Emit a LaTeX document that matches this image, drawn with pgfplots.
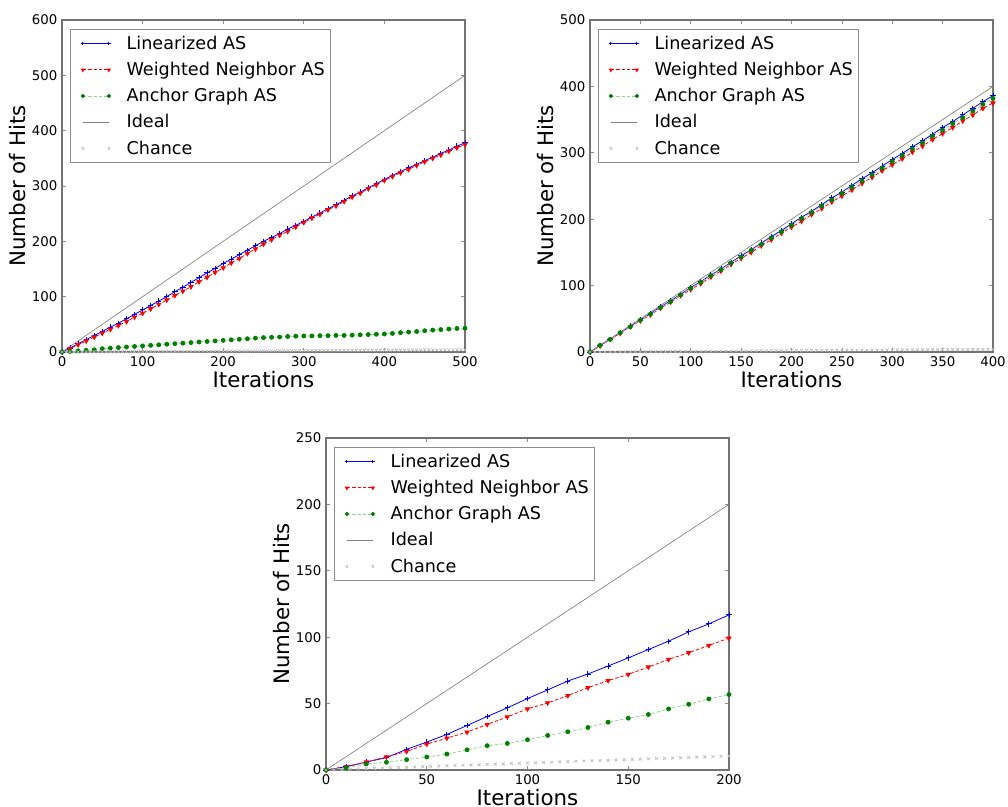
\documentclass[border=0pt]{standalone}
\usepackage{fontspec}
\setmainfont{DejaVu Sans}
\usepackage{pgfplots}
\pgfplotsset{compat=1.18}

\definecolor{mplblue}{rgb}{0,0,1}
\definecolor{mplred}{rgb}{1,0,0}
\definecolor{mplgreen}{rgb}{0,0.5,0}
\definecolor{lightgreenline}{RGB}{150,210,150}
\definecolor{idealgray}{RGB}{128,128,128}
\definecolor{chancegray}{RGB}{185,185,185}

\pgfplotsset{
  panel/.style={
    scale only axis, width=302.25pt, height=249pt,
    anchor=south west,
    axis line style={black!55, line width=0.8pt},
    tick align=inside, major tick length=3pt,
    tick style={black!45, line width=0.5pt},
    xtick pos=both, ytick pos=both,
    ticklabel style={font=\fontsize{10}{12}\selectfont},
    label style={font=\fontsize{16}{19}\selectfont},
    xlabel={Iterations}, ylabel={Number of Hits},
    xlabel style={inner ysep=1pt, yshift=0.8pt}, ylabel style={yshift=-2pt},
    scaled ticks=false,
    /pgf/number format/assume math mode=true,
    legend cell align=left,
    legend style={at={(0.02,0.973)}, anchor=north west,
      draw=black!45, line width=0.6pt,
      font=\fontsize{13.2}{15.8}\selectfont,
      row sep=4.1pt, inner xsep=4.5pt, inner ysep=3pt,
      nodes={inner xsep=0pt},
      /tikz/every odd column/.append style={column sep=12pt}},
    legend image code/.code={\path (0pt,0pt); \draw[mark size=1.3pt] plot coordinates {(4.5pt,0pt) (24pt,0pt)};},
  },
  lin/.style={color=mplblue, draw=mplblue, line width=0.6pt, mark=+, mark size=2pt,
    mark options={solid, draw=mplblue, line width=0.7pt}},
  wn/.style={color=mplred, draw=mplred, line width=0.6pt, dash pattern=on 2.5pt off 1.5pt,
    mark=triangle*, mark size=1.8pt, mark options={solid, rotate=180, draw=mplred, fill=mplred}},
  ag/.style={color=lightgreenline, draw=lightgreenline, line width=0.6pt, dash pattern=on 2.5pt off 1.5pt,
    mark=*, mark size=1.5pt, mark options={solid, draw=mplgreen, fill=mplgreen}},
  ideal/.style={color=idealgray, draw=idealgray, line width=0.5pt, no marks},
  chance/.style={color=chancegray, draw=chancegray, only marks, mark=x, mark size=1.5pt,
    mark options={draw=chancegray, line width=0.5pt}},
}

\begin{document}
\begin{tikzpicture}
\path[use as bounding box] (0,0) rectangle (756pt,605.25pt);

% ---------- top left ----------
\begin{axis}[panel, at={(46.5pt,341.25pt)},
  xmin=0, xmax=500, ymin=0, ymax=600,
  xtick={0,100,...,500}, ytick={0,100,...,600}]
\addplot[lin] coordinates {
(0,0)(10,7)(20,15)(30,22)(40,30)(50,37)(60,45)(70,52)(80,60)(90,68)(100,76)
(110,84)(120,92)(130,100)(140,109)(150,117)(160,126)(170,134)(180,143)(190,151)(200,160)
(210,168)(220,176)(230,184)(240,192)(250,200)(260,207)(270,214)(280,222)(290,229)(300,236)
(310,244)(320,251)(330,259)(340,266)(350,274)(360,282)(370,289)(380,297)(390,304)(400,312)
(410,319)(420,326)(430,333)(440,339)(450,346)(460,352)(470,359)(480,365)(490,372)(500,378)};
\addlegendentry{Linearized AS}
\addplot[wn] coordinates {
(0,0)(10,6)(20,13)(30,20)(40,27)(50,34)(60,41)(70,48)(80,55)(90,63)(100,70)
(110,78)(120,86)(130,94)(140,102)(150,110)(160,118)(170,127)(180,135)(190,144)(200,152)
(210,161)(220,169)(230,178)(240,186)(250,195)(260,203)(270,211)(280,218)(290,226)(300,234)
(310,242)(320,249)(330,257)(340,264)(350,272)(360,280)(370,287)(380,295)(390,302)(400,310)
(410,317)(420,324)(430,330)(440,337)(450,344)(460,350)(470,356)(480,363)(490,369)(500,375)};
\addlegendentry{Weighted Neighbor AS}
\addplot[ag] coordinates {
(0,0)(10,1)(20,2)(30,3)(40,4)(50,6)(60,7)(70,8)(80,9)(90,10)(100,11)
(110,12)(120,13)(130,14)(140,15)(150,16)(160,17)(170,18)(180,19)(190,20)(200,21)
(210,22)(220,23)(230,24)(240,25)(250,26)(260,26.5)(270,27)(280,28)(290,28.5)(300,29)
(310,29)(320,29.5)(330,29.5)(340,30)(350,30)(360,30.5)(370,31)(380,31.5)(390,32)(400,32.5)
(410,33.5)(420,35)(430,36)(440,37)(450,38.5)(460,39.5)(470,40.5)(480,41.5)(490,42.5)(500,43)};
\addlegendentry{Anchor Graph AS}
\addplot[ideal] coordinates {(0,0)(500,500)};
\addlegendentry{Ideal}
\addplot[chance] coordinates {
(0,0)(5,0.04)(10,0.08)(15,0.12)(20,0.16)(25,0.2)(30,0.24)(35,0.28)(40,0.32)(45,0.36)(50,0.4)
(55,0.44)(60,0.48)(65,0.52)(70,0.56)(75,0.6)(80,0.64)(85,0.68)(90,0.72)(95,0.76)(100,0.8)
(105,0.84)(110,0.88)(115,0.92)(120,0.96)(125,1)(130,1.04)(135,1.08)(140,1.12)(145,1.16)(150,1.2)
(155,1.24)(160,1.28)(165,1.32)(170,1.36)(175,1.4)(180,1.44)(185,1.48)(190,1.52)(195,1.56)(200,1.6)
(205,1.64)(210,1.68)(215,1.72)(220,1.76)(225,1.8)(230,1.84)(235,1.88)(240,1.92)(245,1.96)(250,2)
(255,2.04)(260,2.08)(265,2.12)(270,2.16)(275,2.2)(280,2.24)(285,2.28)(290,2.32)(295,2.36)(300,2.4)
(305,2.44)(310,2.48)(315,2.52)(320,2.56)(325,2.6)(330,2.64)(335,2.68)(340,2.72)(345,2.76)(350,2.8)
(355,2.84)(360,2.88)(365,2.92)(370,2.96)(375,3)(380,3.04)(385,3.08)(390,3.12)(395,3.16)(400,3.2)
(405,3.24)(410,3.28)(415,3.32)(420,3.36)(425,3.4)(430,3.44)(435,3.48)(440,3.52)(445,3.56)(450,3.6)
(455,3.64)(460,3.68)(465,3.72)(470,3.76)(475,3.8)(480,3.84)(485,3.88)(490,3.92)(495,3.96)(500,4)};
\addlegendentry{Chance}
\end{axis}

% ---------- top right ----------
\begin{axis}[panel, at={(442.5pt,341.25pt)},
  xmin=0, xmax=400, ymin=0, ymax=500,
  xtick={0,50,...,400}, ytick={0,100,...,500}]
\addplot[lin] coordinates {
(0,0)(10,10)(20,19)(30,29)(40,39)(50,48)(60,58)(70,68)(80,77)(90,87)(100,97)
(110,106)(120,116)(130,125)(140,135)(150,145)(160,154)(170,164)(180,174)(190,183)(200,193)
(210,203)(220,212)(230,222)(240,232)(250,241)(260,251)(270,261)(280,270)(290,280)(300,290)
(310,299)(320,309)(330,318)(340,328)(350,338)(360,347)(370,357)(380,367)(390,377)(400,386)};
\addlegendentry{Linearized AS}
\addplot[wn] coordinates {
(0,0)(10,9)(20,19)(30,28)(40,38)(50,47)(60,56)(70,66)(80,75)(90,85)(100,94)
(110,103)(120,113)(130,122)(140,132)(150,141)(160,150)(170,160)(180,169)(190,179)(200,188)
(210,197)(220,207)(230,216)(240,226)(250,235)(260,244)(270,254)(280,263)(290,273)(300,282)
(310,291)(320,301)(330,310)(340,320)(350,329)(360,338)(370,348)(380,357)(390,367)(400,375)};
\addlegendentry{Weighted Neighbor AS}
\addplot[ag] coordinates {
(0,0)(10,10)(20,19)(30,29)(40,38)(50,48)(60,57)(70,67)(80,76)(90,86)(100,96)
(110,105)(120,115)(130,124)(140,134)(150,143)(160,153)(170,162)(180,172)(190,181)(200,191)
(210,201)(220,210)(230,220)(240,229)(250,239)(260,248)(270,258)(280,267)(290,277)(300,287)
(310,296)(320,306)(330,315)(340,325)(350,334)(360,344)(370,353)(380,363)(390,373)(400,382)};
\addlegendentry{Anchor Graph AS}
\addplot[ideal] coordinates {(0,0)(400,400)};
\addlegendentry{Ideal}
\addplot[chance] coordinates {
(0,0)(5,0.05)(10,0.1)(15,0.15)(20,0.2)(25,0.25)(30,0.3)(35,0.35)(40,0.4)(45,0.45)(50,0.5)
(55,0.55)(60,0.6)(65,0.65)(70,0.7)(75,0.75)(80,0.8)(85,0.85)(90,0.9)(95,0.95)(100,1)
(105,1.05)(110,1.1)(115,1.15)(120,1.2)(125,1.25)(130,1.3)(135,1.35)(140,1.4)(145,1.45)(150,1.5)
(155,1.55)(160,1.6)(165,1.65)(170,1.7)(175,1.75)(180,1.8)(185,1.85)(190,1.9)(195,1.95)(200,2)
(205,2.05)(210,2.1)(215,2.15)(220,2.2)(225,2.25)(230,2.3)(235,2.35)(240,2.4)(245,2.45)(250,2.5)
(255,2.55)(260,2.6)(265,2.65)(270,2.7)(275,2.75)(280,2.8)(285,2.85)(290,2.9)(295,2.95)(300,3)
(305,3.05)(310,3.1)(315,3.15)(320,3.2)(325,3.25)(330,3.3)(335,3.35)(340,3.4)(345,3.45)(350,3.5)
(355,3.55)(360,3.6)(365,3.65)(370,3.7)(375,3.75)(380,3.8)(385,3.85)(390,3.9)(395,3.95)(400,4)};
\addlegendentry{Chance}
\end{axis}

% ---------- bottom ----------
\begin{axis}[panel, at={(244.5pt,27.75pt)},
  xmin=0, xmax=200, ymin=0, ymax=250,
  xtick={0,50,...,200}, ytick={0,50,...,250}]
\addplot[lin] coordinates {
(0,0)(10,2.5)(20,6)(30,9.3)(40,15.6)(50,21)(60,26.8)(70,33.5)(80,40.3)(90,46.8)(100,53.8)
(110,60.3)(120,67)(130,72.3)(140,78.3)(150,84.4)(160,90.7)(170,97)(180,104)(190,110)(200,116.8)};
\addlegendentry{Linearized AS}
\addplot[wn] coordinates {
(0,0)(10,2.5)(20,6)(30,9.8)(40,14)(50,19.5)(60,24)(70,28.5)(80,34.3)(90,40)(100,46)
(110,50.5)(120,56)(130,62)(140,67.3)(150,72)(160,77.5)(170,83.3)(180,88.3)(190,93.8)(200,99.3)};
\addlegendentry{Weighted Neighbor AS}
\addplot[ag] coordinates {
(0,0)(10,1.7)(20,4.5)(30,5.8)(40,7.8)(50,9.8)(60,12)(70,15.2)(80,18.3)(90,20)(100,22.8)
(110,26)(120,28.8)(130,32)(140,36)(150,39)(160,41.8)(170,46)(180,49.5)(190,53.5)(200,56.8)};
\addlegendentry{Anchor Graph AS}
\addplot[ideal] coordinates {(0,0)(200,200)};
\addlegendentry{Ideal}
\addplot[chance] coordinates {
(0,0)(4,0.21)(8,0.42)(12,0.63)(16,0.84)(20,1.05)(24,1.26)(28,1.47)(32,1.68)(36,1.89)(40,2.1)
(44,2.31)(48,2.52)(52,2.73)(56,2.94)(60,3.15)(64,3.36)(68,3.57)(72,3.78)(76,3.99)(80,4.2)
(84,4.41)(88,4.62)(92,4.83)(96,5.04)(100,5.25)(104,5.46)(108,5.67)(112,5.88)(116,6.09)(120,6.3)
(124,6.51)(128,6.72)(132,6.93)(136,7.14)(140,7.35)(144,7.56)(148,7.77)(152,7.98)(156,8.19)(160,8.4)
(164,8.61)(168,8.82)(172,9.03)(176,9.24)(180,9.45)(184,9.66)(188,9.87)(192,10.08)(196,10.29)(200,10.5)};
\addlegendentry{Chance}
\end{axis}
\end{tikzpicture}
\end{document}
